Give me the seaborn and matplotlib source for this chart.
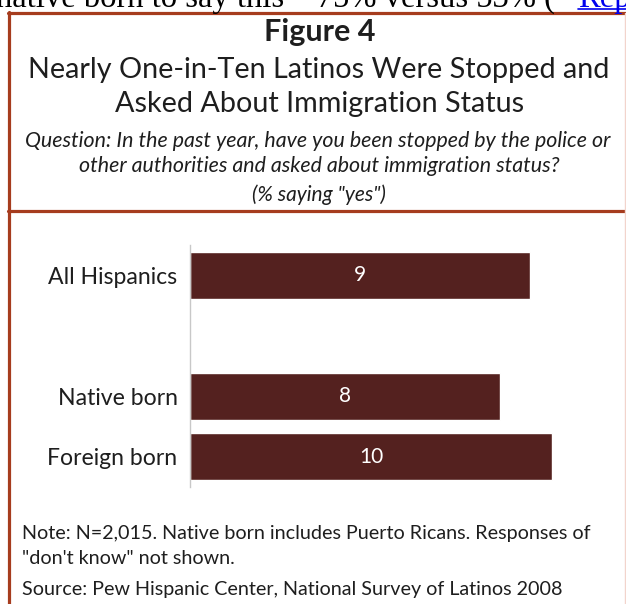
import matplotlib.pyplot as plt
import seaborn as sns
import pandas as pd
from matplotlib.lines import Line2D

# data
groups = ["All Hispanics", "Native born", "Foreign born"]
yes_pct = [9.2, 8.4, 9.8]
bar_labels = ["9", "8", "10"]
order = ["All Hispanics", " ", "Native born", "Foreign born"]

W, H = 626, 604
bar_color = "#54211f"
frame_color = "#a63c1e"
txt = "#1e1e1e"

sns.set_theme(style="white")
plt.rcParams["font.family"] = ["Lato", "DejaVu Sans"]

fig = plt.figure(figsize=(W / 100, H / 100), dpi=100)


def fx(x):
    return x / W


def fy(y):
    return 1 - y / H


# bar chart
ax = fig.add_axes([fx(190), fy(487), (600 - 190) / W, (487 - 245) / H])
df = pd.DataFrame({"group": groups, "pct": yes_pct})
sns.barplot(data=df, x="pct", y="group", order=order, color=bar_color,
            saturation=1, width=0.78, orient="h", ax=ax)
ax.bar_label(ax.containers[0], labels=bar_labels, label_type="center",
             color="white", fontsize=15)
ax.set_xlim(0, 11.1)
ax.set_xlabel("")
ax.set_ylabel("")
ax.set_xticks([])
ax.tick_params(axis="y", length=0, pad=9, labelsize=16.6, labelcolor=txt)
for s in ["top", "right", "bottom"]:
    ax.spines[s].set_visible(False)
ax.spines["left"].set_color("#c8c8c8")
ax.spines["left"].set_linewidth(1)

# frame and divider
fig.add_artist(Line2D([fx(8.5), fx(8.5)], [fy(12), fy(610)], color=frame_color, lw=2.3))
fig.add_artist(Line2D([fx(7.5), fx(630)], [fy(13), fy(13)], color=frame_color, lw=2.3))
fig.add_artist(Line2D([fx(8), fx(630)], [fy(211), fy(211)], color=frame_color, lw=2.3))
fig.add_artist(Line2D([fx(625), fx(625)], [fy(13), fy(610)], color="#f2d4cc", lw=1))

# clipped text from page above the figure
fig.text(fx(-4), fy(7), "native born to say this \u2013 75% versus 53% (",
         family="Liberation Serif", fontsize=23.5, va="baseline", ha="left", color="black")
fig.text(fx(578), fy(7), "Report", family="Liberation Serif", fontsize=23.5,
         va="baseline", ha="left", color="#0000ee")
fig.add_artist(Line2D([fx(578), fx(626)], [fy(9), fy(9)], color="#0000ee", lw=1.2))

# titles
fig.text(fx(320), fy(32), "Figure 4", fontsize=22, fontweight="bold",
         ha="center", va="center", color=txt)
fig.text(fx(319), fy(70), "Nearly One-in-Ten Latinos Were Stopped and",
         fontsize=20.7, ha="center", va="center", color=txt)
fig.text(fx(320), fy(104), "Asked About Immigration Status",
         fontsize=20.7, ha="center", va="center", color=txt)
fig.text(fx(318), fy(141),
         "Question: In the past year, have you been stopped by the police or",
         fontsize=15.4, style="italic", ha="center", va="center", color=txt)
fig.text(fx(319), fy(166), "other authorities and asked about immigration status?",
         fontsize=15.4, style="italic", ha="center", va="center", color=txt)
fig.text(fx(319), fy(195), "(% saying \"yes\")",
         fontsize=15, style="italic", ha="center", va="center", color=txt)

# notes
fig.text(fx(22), fy(533),
         "Note: N=2,015. Native born includes Puerto Ricans. Responses of",
         fontsize=14.2, ha="left", va="center", color=txt)
fig.text(fx(22), fy(558), "\"don't know\" not shown.",
         fontsize=14.2, ha="left", va="center", color=txt)
fig.text(fx(22), fy(590), "Source: Pew Hispanic Center, National Survey of Latinos 2008",
         fontsize=14.2, ha="left", va="center", color=txt)

fig.savefig("out.png", dpi=100)
